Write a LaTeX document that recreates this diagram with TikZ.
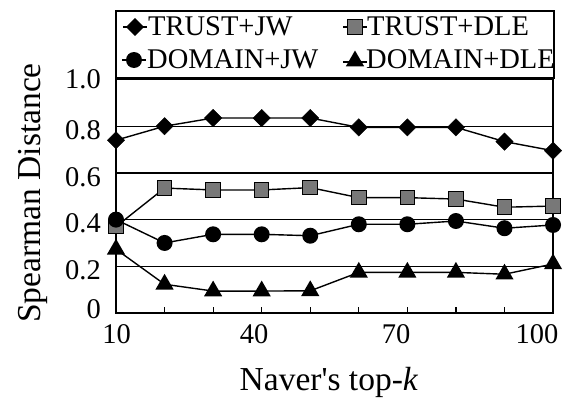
\documentclass[tikz,border=0pt]{standalone}
\usepackage{fontspec}
\setmainfont{Liberation Serif}
\usetikzlibrary{shapes.geometric}
\begin{document}
\begin{tikzpicture}[x=1pt,y=-1pt,
  lbl/.style={font=\fontsize{28.5}{31}\selectfont, inner sep=0pt},
  ttl/.style={font=\fontsize{33.5}{36}\selectfont, inner sep=0pt},
  mdia/.style={diamond, fill=black, draw=black, inner sep=0pt, minimum width=17.5pt, minimum height=17.5pt},
  msq/.style={rectangle, fill={rgb,255:red,120;green,120;blue,120}, draw=black, line width=1pt, inner sep=0pt, minimum size=14.5pt},
  mcir/.style={circle, fill=black, inner sep=0pt, minimum size=16pt},
  mtri/.style={regular polygon, regular polygon sides=3, fill=black, inner sep=0pt, minimum size=21pt},
  ser/.style={line width=1.4pt, black},
  gridln/.style={line width=1.3pt, black},
  tickln/.style={line width=1.2pt, black},
  framel/.style={line width=1.9pt, black}]
\useasboundingbox (0,0) rectangle (578,399);
% legend box
\draw[line width=1.3pt] (116,11) rectangle (554,78);
% grid lines
\foreach \v in {0.2,0.4,0.6,0.8}
  \draw[gridln] (116,{313-233.5*\v}) -- (553,{313-233.5*\v});
% ticks
\foreach \i in {1,...,8}
  \draw[tickln] ({116+48.56*\i},313) -- ++(0,-6);
% frame
\draw[framel] (116,79.5) rectangle (553,313);
% data coordinates
\foreach \v [count=\i from 0] in {0.74,0.80,0.835,0.835,0.835,0.795,0.795,0.795,0.734,0.695}
  \coordinate (tj\i) at ({116+48.56*\i},{313-233.5*\v});
\foreach \v [count=\i from 0] in {0.37,0.535,0.527,0.527,0.537,0.494,0.494,0.488,0.453,0.458}
  \coordinate (td\i) at ({116+48.56*\i},{313-233.5*\v});
\foreach \v [count=\i from 0] in {0.40,0.30,0.337,0.337,0.331,0.38,0.38,0.394,0.363,0.377}
  \coordinate (dj\i) at ({116+48.56*\i},{313-233.5*\v});
\foreach \v [count=\i from 0] in {0.273,0.123,0.094,0.094,0.095,0.174,0.174,0.174,0.166,0.21}
  \coordinate (dd\i) at ({116+48.56*\i},{313-233.5*\v});
% series lines
\draw[ser] (tj0) \foreach \i in {1,...,9}{ -- (tj\i)};
\draw[ser] (td0) \foreach \i in {1,...,9}{ -- (td\i)};
\draw[ser] (dj0) \foreach \i in {1,...,9}{ -- (dj\i)};
\draw[ser] (dd0) \foreach \i in {1,...,9}{ -- (dd\i)};
% markers
\foreach \i in {0,...,9} \node[msq] (tdm\i) at (td\i) {};
\foreach \i in {0,...,9} \node[mdia] (tjm\i) at (tj\i) {};
\foreach \i in {0,...,9} \node[mcir] (djm\i) at (dj\i) {};
\foreach \i in {0,...,9} \node[mtri] (ddm\i) at (dd\i) {};
% legend entries
\coordinate (l1a) at (123,27); \coordinate (l1b) at (147,27);
\draw[ser] (l1a) -- (l1b);
\node[mdia] (lm1) at (135,27) {};
\node[lbl, anchor=base west] (lt1) at (148,35.5) {TRUST+JW};
\coordinate (l2a) at (343,27); \coordinate (l2b) at (367,27);
\draw[ser] (l2a) -- (l2b);
\node[msq] (lm2) at (355,27) {};
\node[lbl, anchor=base west] (lt2) at (367,35.5) {TRUST+DLE};
\coordinate (l3a) at (122,60); \coordinate (l3b) at (146,60);
\draw[ser] (l3a) -- (l3b);
\node[mcir] (lm3) at (134,60) {};
\node[lbl, anchor=base west] (lt3) at (147,68.5) {DOMAIN+JW};
\coordinate (l4a) at (343,62); \coordinate (l4b) at (367,62);
\draw[ser] (l4a) -- (l4b);
\node[mtri] (lm4) at (355,61) {};
\node[lbl, anchor=base west] (lt4) at (366,68.5) {DOMAIN+DLE};
% y tick labels
\node[lbl, anchor=east] (y10) at (101,79.5) {1.0};
\node[lbl, anchor=east] (y08) at (101,130) {0.8};
\node[lbl, anchor=east] (y06) at (101,177) {0.6};
\node[lbl, anchor=east] (y04) at (101,223) {0.4};
\node[lbl, anchor=east] (y02) at (101,270) {0.2};
\node[lbl, anchor=east] (y00) at (101,309) {0};
% x tick labels
\node[lbl] (x10) at (116.5,334) {10};
\node[lbl] (x40) at (254,334) {40};
\node[lbl] (x70) at (396,334) {70};
\node[lbl] (x100) at (537,334) {100};
% axis titles
\node[ttl, rotate=90, anchor=base] (ytitle) at (40,193) {Spearman Distance};
\node[ttl, anchor=base] (xtitle) at (329,390) {Naver\textquotesingle s top-\textit{k}};
\end{tikzpicture}
\end{document}
